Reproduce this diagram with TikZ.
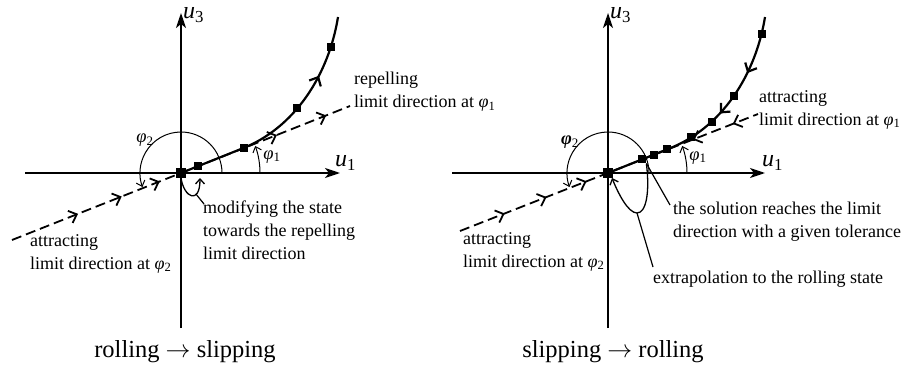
\documentclass[tikz,border=0pt]{standalone}
\usepackage{fontspec}
\setmainfont{Liberation Serif}
\usetikzlibrary{arrows.meta,decorations.markings}
\newcommand{\phisub}[1]{\textit{φ}\textsubscript{#1}}
\newcommand{\usub}[1]{\textit{u}\textsubscript{#1}}
\tikzset{
  axisline/.style={line width=1.9pt,-{Stealth[length=15pt,width=10pt,inset=4pt]}},
  traj/.style={line width=2.2pt},
  limdir/.style={line width=1.8pt,dash pattern=on 10pt off 5pt},
  sqr/.style={fill=black,minimum size=8pt,inner sep=0pt},
  osqr/.style={fill=black,minimum size=9.5pt,inner sep=0pt},
  anglearc/.style={line width=1pt},
  loopline/.style={line width=1.3pt},
  leader/.style={line width=1.2pt},
  barbtip/.tip={Straight Barb[length=7pt,width=13pt]},
  smallbarb/.tip={Straight Barb[length=5pt,width=9pt]},
  txt/.style={font=\fontsize{18}{23}\selectfont,align=left,inner sep=0pt,anchor=north west},
  axlabel/.style={font=\fontsize{24}{28}\selectfont,inner sep=0pt,anchor=west},
  anglelabel/.style={font=\fontsize{18.5}{22}\selectfont,inner sep=0pt},
  captionlbl/.style={font=\fontsize{24.5}{28}\selectfont,inner sep=0pt},
}
\begin{document}
\begin{tikzpicture}[x=1pt,y=1pt]
\useasboundingbox (0,0) rectangle (917,370);
% ---------------- left panel ----------------
\begin{scope}[shift={(181,197)}]
  \draw[axisline] (-156,0) -- (159,0);
  \draw[axisline] (0,-155) -- (0,160);
  \node[axlabel] (Lu1) at (154,10) {\usub{1}};
  \node[axlabel] (Lu3) at (2,158) {\usub{3}};
  \draw[limdir,postaction={decorate},decoration={markings,
    mark=at position 71pt with {\arrow{barbtip}},
    mark=at position 118pt with {\arrow{barbtip}},
    mark=at position 159pt with {\arrow{barbtip}},
    mark=at position 285pt with {\arrow{barbtip}},
    mark=at position 338pt with {\arrow{barbtip}}}] (-169,-67) -- (169,67);
  \draw[anglearc,-smallbarb] (41,0) arc[start angle=0,end angle=200,radius=41];
  \draw[anglearc,-smallbarb] (79,0) arc[start angle=0,end angle=20,radius=79];
  \node[anglelabel] (Lp2) at (-36,33) {\phisub{2}};
  \node[anglelabel] (Lp1) at (91,16) {\phisub{1}};
  \draw[traj,postaction={decorate},decoration={markings,
    mark=at position 174pt with {\arrow{barbtip}}}]
    (0,0) -- (60,24) .. controls (115,45) and (148,100) .. (157,156);
  \path (0,0) -- node[sqr,pos=0.28] (La1) {} (60,24)
     .. controls (115,45) and (148,100) ..
     node[sqr,pos=0.02] (La2) {} node[sqr,pos=0.41] (La3) {} node[sqr,pos=0.82] (La4) {} (157,156);
  \node[osqr] (Lo) at (0,0) {};
  \coordinate (Lend) at (19,-5);
  \draw[loopline,-smallbarb] (Lo.south) .. controls (3,-25) and (19,-32) .. coordinate[pos=0.68] (Lbot) (Lend);
\end{scope}
\node[txt] (Lrep) at (354,298) {repelling\\limit direction at \phisub{1}};
\node[txt] (Latt) at (30,136) {attracting\\limit direction at \phisub{2}};
\node[txt] (Lmod) at (203,169) {modifying the state\\towards the repelling\\limit direction};
\draw[leader] (Lbot) -- ([shift={(1,-3)}]Lmod.north west);
\node[captionlbl] (Lcap) at (185,18) {rolling $\rightarrow$ slipping};
% ---------------- right panel ----------------
\begin{scope}[shift={(608,197)}]
  \draw[axisline] (-156,0) -- (157,0);
  \draw[axisline] (0,-155) -- (0,160);
  \node[axlabel] (Ru1) at (154,10) {\usub{1}};
  \node[axlabel] (Ru3) at (2,158) {\usub{3}};
  \draw[limdir,postaction={decorate},decoration={markings,
    mark=at position 48pt with {\arrow{barbtip}},
    mark=at position 93pt with {\arrow{barbtip}},
    mark=at position 136pt with {\arrow{barbtip}},
    mark=at position 250pt with {\arrowreversed{barbtip}},
    mark=at position 293pt with {\arrowreversed{barbtip}}}] (-148,-58) -- (150,59);
  \draw[anglearc,-smallbarb] (41,0) arc[start angle=0,end angle=200,radius=41];
  \draw[anglearc,-smallbarb] (79,0) arc[start angle=0,end angle=20,radius=79];
  \node[anglelabel] (Rp2) at (-38,31) {\textbf{\textit{φ}}\textsubscript{2}};
  \node[anglelabel] (Rp1) at (90,15) {\phisub{1}};
  \draw[traj,postaction={decorate},decoration={markings,
    mark=at position 128pt with {\arrowreversed{barbtip}},
    mark=at position 177pt with {\arrowreversed{barbtip}}}]
    (0,0) -- (60,24) .. controls (115,45) and (148,100) .. (157,156);
  \path (0,0) -- node[sqr,pos=0.57] (Rb1) {} node[sqr,pos=0.77] (Rb2) {} node[sqr,pos=0.98] (Rb3) {} (60,24)
     .. controls (115,45) and (148,100) ..
     node[sqr,pos=0.15] (Rb4) {} node[sqr,pos=0.3] (Rb5) {} node[sqr,pos=0.5] (Rb6) {} node[sqr,pos=0.9] (Rb7) {} (157,156);
  \node[osqr] (Ro) at (0,0) {};
  \coordinate (Rend) at (4,-5);
  \draw[loopline,-smallbarb] (Rb1.south east) .. controls (42,-20) and (38,-40) .. (29,-40) coordinate (Rbot)
     .. controls (20,-40) and (10,-20) .. (Rend);
\end{scope}
\node[txt] (Ratt1) at (759,280) {attracting\\limit direction at \phisub{1}};
\node[txt] (Ratt2) at (463,138) {attracting\\limit direction at \phisub{2}};
\node[txt] (Rsol) at (673,168) {the solution reaches the limit\\direction with a given tolerance};
\node[txt] (Rext) at (653,99) {extrapolation to the rolling state};
\draw[leader] (Rb1.south east) -- ([shift={(-3,-3)}]Rsol.north west);
\draw[leader] (Rbot) -- ([shift={(0,4)}]Rext.north west);
\node[captionlbl] (Rcap) at (613,18) {slipping $\rightarrow$ rolling};
\end{tikzpicture}
\end{document}
